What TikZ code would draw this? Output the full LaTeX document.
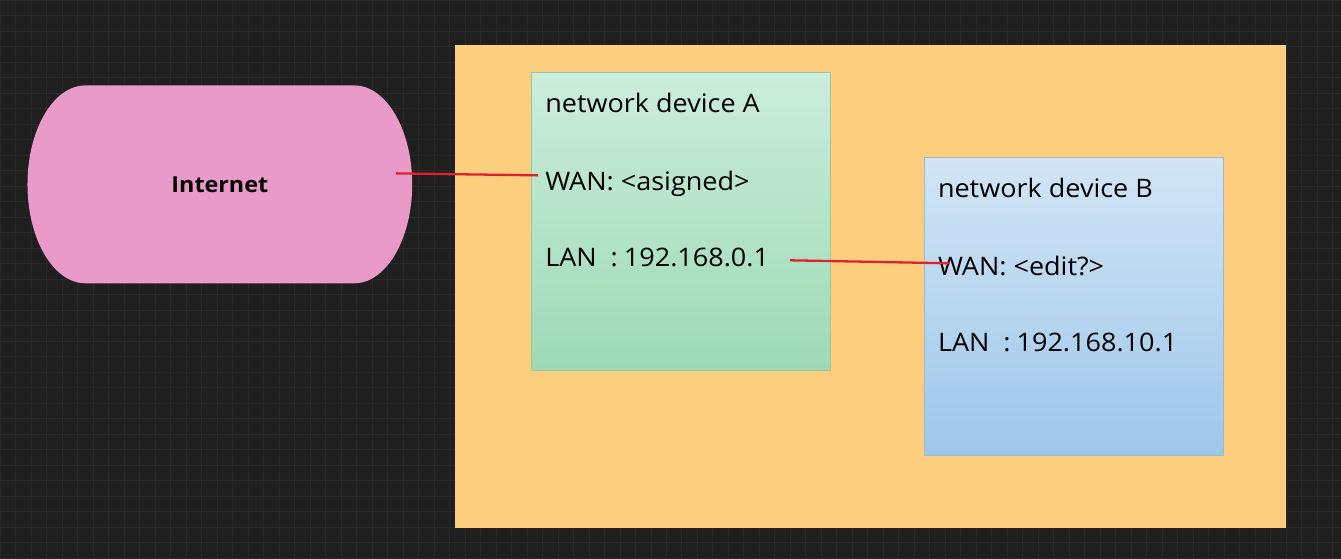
\documentclass[tikz,border=0pt]{standalone}
\usepackage{fontspec}
\setmainfont{Open Sans}[FakeStretch=1.06]
\usetikzlibrary{positioning, calc}
\definecolor{bgdark}{HTML}{1F1F1F}
\definecolor{gridgray}{HTML}{292929}
\definecolor{inetpink}{HTML}{EA9AC8}
\definecolor{lanorange}{HTML}{FCCE7E}
\definecolor{greentop}{HTML}{CBEDDB}
\definecolor{greenbot}{HTML}{9DDAB5}
\definecolor{greenedge}{HTML}{95C9A8}
\definecolor{bluetop}{HTML}{D2E5F5}
\definecolor{bluebot}{HTML}{9DC7EA}
\definecolor{blueedge}{HTML}{9BB9D3}
\definecolor{linkred}{HTML}{E3202D}
\newcommand{\langap}{LAN\hspace{14pt}:\hspace{6pt}}

\begin{document}
\begin{tikzpicture}[x=1pt, y=-1pt,
		devbox/.style={draw, line width=0.8pt, anchor=north west, minimum width=299pt, minimum height=298pt},
		devtext/.style={anchor=base west, inner sep=0pt, font=\fontsize{25.5}{30}\selectfont},
		link/.style={draw=linkred, line width=2.3pt}]
		% background and grid
		\fill[bgdark] (0,0) rectangle (1341,558);
		\draw[gridgray, line width=1pt, step=15.5pt] (0,0) grid (1341,558);
		\useasboundingbox (0,0) rectangle (1341,558);
		% internet
		\fill[inetpink] (85,85) -- (354,85) arc[start angle=90, end angle=-90, x radius=58pt, y radius=99pt]
			-- (85,283) arc[start angle=270, end angle=90, x radius=58pt, y radius=99pt] -- cycle;
		\node[font=\bfseries\fontsize{22}{26}\selectfont] (internet) at (219.5,184) {Internet};
		% local network
		\fill[lanorange] (455,45) rectangle (1286,528);
		\node[devbox, draw=greenedge, top color=greentop, bottom color=greenbot] (devA) at (531,72) {};
		\node[devbox, draw=blueedge, top color=bluetop, bottom color=bluebot] (devB) at (924,157) {};
		\node[devtext] (nameA) at (545,112) {network device A};
		\node[devtext] (wanA) at (545,190) {WAN: <asigned>};
		\node[devtext] (lanA) at (545,266) {\langap 192.168.0.1};
		\node[devtext] (nameB) at (938,197) {network device B};
		\node[devtext] (wanB) at (938,275) {WAN: <edit?>};
		\node[devtext] (lanB) at (938,351) {\langap 192.168.10.1};
		% links
		\draw[link] ($(internet)+(176.5,-11)$) -- ($(wanA.base west)+(-7,-15)$);
		\draw[link] ($(lanA.base west)+(245,-6)$) -- ($(wanB.base west)+(12,-12)$);
	\end{tikzpicture}
\end{document}
